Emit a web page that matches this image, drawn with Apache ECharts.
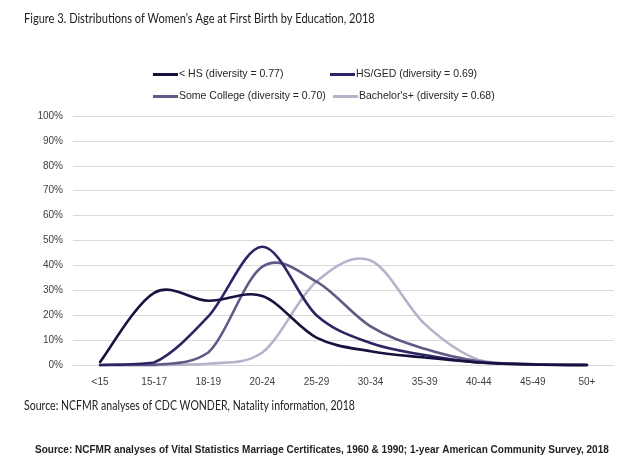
<!DOCTYPE html>
<html>
<head>
<meta charset="utf-8">
<script src="https://cdn.jsdelivr.net/npm/echarts@6/dist/echarts.min.js"></script>
<style>
html,body{margin:0;padding:0;background:#fff;}
#c{width:640px;height:464px;}
</style>
</head>
<body>
<div id="c"></div>
<script>
var categories = ['<15','15-17','18-19','20-24','25-29','30-34','35-39','40-44','45-49','50+'];
var seriesNames = ['< HS (diversity = 0.77)','HS/GED (diversity = 0.69)','Some College (diversity = 0.70)',"Bachelor's+ (diversity = 0.68)"];
var lessHS      = [1.2, 29.0, 25.8, 27.7, 11.0, 5.5, 3.0, 1.0, 0.2, 0.0];
var hsGed       = [0.0, 1.0, 19.5, 47.5, 20.0, 8.8, 4.0, 1.0, 0.2, 0.0];
var someCollege = [0.0, 0.0, 5.0, 39.5, 33.5, 15.5, 6.5, 1.5, 0.3, 0.0];
var bachelors   = [0.0, 0.0, 0.5, 5.0, 33.5, 42.0, 16.5, 2.0, 0.4, 0.0];
var yTicks = [0,10,20,30,40,50,60,70,80,90,100];

var colors = ['#16123f','#2b2563','#605b86','#b5b2c9'];
var dataSets = [lessHS, hsGed, someCollege, bachelors];

var chart = echarts.init(document.getElementById('c'));
var txtFont = "'Liberation Sans', Arial, sans-serif";

var legendPos = [[153,69],[330,69],[153,91],[333,91]];
var legends = seriesNames.map(function(n, i){
  return {
    data: [n],
    left: legendPos[i][0], top: legendPos[i][1], padding: 0,
    orient: 'horizontal',
    icon: 'rect', itemWidth: 25, itemHeight: 3, itemGap: 0,
    selectedMode: false,
    textStyle: {fontFamily: txtFont, fontSize: 10.5, color: '#262626', padding: [0,0,0,-4]}
  };
});

// Excel-style smoothed curve (Catmull-Rom Bezier) through the data points, positioned via the axes
function makeRender(values, color){
  return function(params, api){
    var pts = values.map(function(v, i){ return api.coord([i, v]); });
    var yBase = api.coord([0, 0])[1];
    var n = pts.length;
    var d = 'M' + pts[0][0] + ' ' + pts[0][1];
    for (var i = 0; i < n - 1; i++){
      var p0 = pts[Math.max(i-1,0)], p1 = pts[i], p2 = pts[i+1], p3 = pts[Math.min(i+2,n-1)];
      var c1x = p1[0] + (p2[0]-p0[0])/6, c1y = Math.min(yBase, p1[1] + (p2[1]-p0[1])/6);
      var c2x = p2[0] - (p3[0]-p1[0])/6, c2y = Math.min(yBase, p2[1] - (p3[1]-p1[1])/6);
      d += ' C' + c1x + ' ' + c1y + ' ' + c2x + ' ' + c2y + ' ' + p2[0] + ' ' + p2[1];
    }
    return {
      type: 'path',
      shape: {pathData: d},
      style: {fill: 'none', stroke: color, lineWidth: 2.6, lineCap: 'round', lineJoin: 'round'}
    };
  };
}

var series = dataSets.map(function(d, i){
  return {
    name: seriesNames[i], type: 'custom',
    data: [[0, 0]],
    renderItem: makeRender(d, colors[i]),
    itemStyle: {color: colors[i]},
    clip: false,
    z: 10 - i
  };
});

chart.setOption({
  animation: false,
  backgroundColor: '#fff',
  legend: legends,
  grid: {left: 73, right: 26, top: 116, bottom: 99, containLabel: false},
  xAxis: {
    type: 'category', data: categories, boundaryGap: true,
    axisLine: {show: true, lineStyle: {color: '#d9d9d9', width: 1}},
    axisTick: {show: false},
    axisLabel: {fontFamily: txtFont, fontSize: 10, color: '#404040', margin: 12, interval: 0}
  },
  yAxis: {
    type: 'value', min: yTicks[0], max: yTicks[yTicks.length-1], interval: 10,
    axisLine: {show: false}, axisTick: {show: false},
    splitLine: {lineStyle: {color: '#dadada', width: 1}},
    axisLabel: {fontFamily: txtFont, fontSize: 10, color: '#404040', margin: 10,
      formatter: function(v){ return v + '%'; }}
  },
  series: series,
  graphic: [
    {type: 'text', left: 24, top: 11, scaleX: 0.79,
     style: {text: "Figure 3. Distributions of Women's Age at First Birth by Education, 2018",
             fontFamily: "Lato, sans-serif", fontWeight: 400, fontSize: 14, fill: '#222'}},
    {type: 'text', left: 24, top: 399, scaleX: 0.81,
     style: {text: 'Source: NCFMR analyses of CDC WONDER, Natality information, 2018',
             fontFamily: "Lato, sans-serif", fontSize: 13, fill: '#222'}},
    {type: 'text', left: 35, top: 445,
     style: {text: 'Source: NCFMR analyses of Vital Statistics Marriage Certificates, 1960 & 1990; 1-year American Community Survey, 2018',
             fontFamily: txtFont, fontWeight: 'bold', fontSize: 10, fill: '#222'}}
  ]
});
</script>
</body>
</html>
